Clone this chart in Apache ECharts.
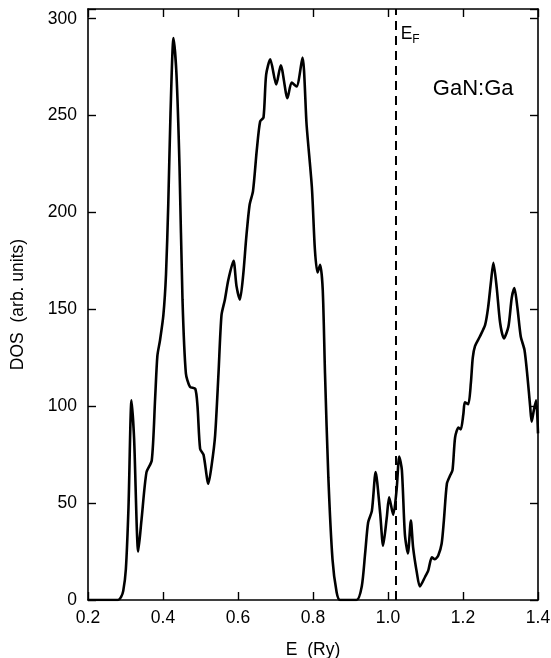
<!DOCTYPE html>
<html>
<head>
<meta charset="utf-8">
<script src="https://cdn.jsdelivr.net/npm/echarts@6/dist/echarts.min.js"></script>
<style>
html,body{margin:0;padding:0;background:#fff;}
#chart{width:551px;height:658px;}
</style>
</head>
<body>
<div id="chart"></div>
<script>
const energy = [0.20,0.28,0.288,0.294,0.301,0.308,0.316,0.323,0.334,0.343,0.356,0.37,0.379,0.385,0.392,0.401,0.408,0.414,0.42,0.428,0.436,0.444,0.452,0.461,0.472,0.486,0.492,0.499,0.508,0.521,0.53,0.539,0.548,0.556,0.565,0.574,0.588,0.596,0.605,0.614,0.622,0.631,0.64,0.65,0.659,0.668,0.675,0.686,0.702,0.714,0.732,0.743,0.756,0.772,0.783,0.797,0.805,0.812,0.819,0.826,0.832,0.841,0.852,0.863,0.872,0.916,0.93,0.939,0.947,0.957,0.967,0.979,0.987,0.997,1.003,1.014,1.023,1.03,1.037,1.045,1.053,1.061,1.067,1.077,1.085,1.099,1.107,1.117,1.125,1.134,1.143,1.149,1.157,1.165,1.172,1.179,1.188,1.194,1.201,1.205,1.214,1.221,1.226,1.232,1.245,1.259,1.267,1.275,1.281,1.29,1.299,1.309,1.321,1.33,1.337,1.345,1.354,1.364,1.372,1.379,1.383,1.389,1.395,1.4];
const dos = [0,0,1.5,4.7,16,48,103,83,25,42,66,72,104,126,134,147,168,204,251,290,271,224,155,117,110,109,100,78,75,60,70,85,117,147,155,165,175,162,155,168,187,204,211,232,247,249,271,279,266,276,259,267,265,280,245,213,181,169,173,160,117,63,21,4,0,0,7,24,40,46,66,45,28,43,53,44,57,74,67,34,24,41,27,14,7,12,15,22,21,23,29,41,60,64,67,84,89,88,96,102,101,112,125,131,136,142,151,165,174,161,143,135,141,156,161,151,136,129,115,100,92,98,103,86];
const xTicks = [0.2,0.4,0.6,0.8,1.0,1.2,1.4];
const yTicks = [0,50,100,150,200,250,300];
const fermiEnergy = 1.023;
const xLabel = 'E  (Ry)';
const yLabel = 'DOS  (arb. units)';
const sampleName = 'GaN:Ga';

const FONT = 'Liberation Sans, Arial, Helvetica, sans-serif';
const chart = echarts.init(document.getElementById('chart'), null, {renderer:'canvas'});
const pts = energy.map((e,i)=>[e,dos[i]]);
const lineCommon = {lineStyle:{color:'#000',width:1.6}};
const tickCommon = {show:true,inside:true,length:8,lineStyle:{color:'#000',width:1.4}};
function xAx(pos, labels){
  return {type:'value',position:pos,min:xTicks[0],max:xTicks[xTicks.length-1],interval:0.2,
    axisLine:Object.assign({show:true,onZero:false},lineCommon),
    axisTick:tickCommon,splitLine:{show:false},
    axisLabel:{show:labels,color:'#000',fontSize:17.5,fontFamily:FONT,margin:9,
      formatter:v=>v.toFixed(1)},
    name: labels?xLabel:'', nameLocation:'middle', nameGap:41,
    nameTextStyle:{color:'#000',fontSize:17.5,fontFamily:FONT}};
}
function yAx(pos, labels){
  return {type:'value',position:pos,min:0,max:305,interval:50,
    axisLine:Object.assign({show:true,onZero:false},lineCommon),
    axisTick:tickCommon,splitLine:{show:false},
    axisLabel:{show:labels,color:'#000',fontSize:17.5,fontFamily:FONT,margin:11,
      formatter:v=>(yTicks.indexOf(v)>=0?String(v):'')},
    name: labels?yLabel:'', nameLocation:'middle', nameGap:61, nameRotate:90,
    nameTextStyle:{color:'#000',fontSize:17.5,fontFamily:FONT}};
}
const hidden = {color:'rgba(0,0,0,0)'};
chart.setOption({
  animation:false,
  backgroundColor:'#fff',
  grid:{left:88,right:13,top:9,bottom:58,containLabel:false,outerBoundsMode:'none'},
  xAxis:[xAx('bottom',true), xAx('top',false)],
  yAxis:[yAx('left',true), yAx('right',false)],
  series:[{
    type:'line',data:pts,showSymbol:false,smooth:0.25,
    lineStyle:{color:'#000',width:2.6},
    markLine:{silent:true,symbol:['none','none'],label:{show:false},
      lineStyle:{color:'#000',width:2,type:[9,6]},
      data:[{xAxis:fermiEnergy}]},
    markPoint:{silent:true,symbol:'circle',symbolSize:2,itemStyle:hidden,
      data:[
        {coord:[1.031,292],itemStyle:hidden,label:{show:true,position:'right',distance:0,
          formatter:'{e|E}{f|F}',
          rich:{e:{fontSize:17.5,fontFamily:FONT,color:'#000'},
                f:{fontSize:12,fontFamily:FONT,color:'#000',padding:[10,0,0,0]}}}},
        {coord:[1.227,264],itemStyle:hidden,label:{show:true,position:'inside',
          formatter:sampleName,fontSize:22,fontFamily:FONT,color:'#000'}}
      ]}
  }]
});
</script>
</body>
</html>
